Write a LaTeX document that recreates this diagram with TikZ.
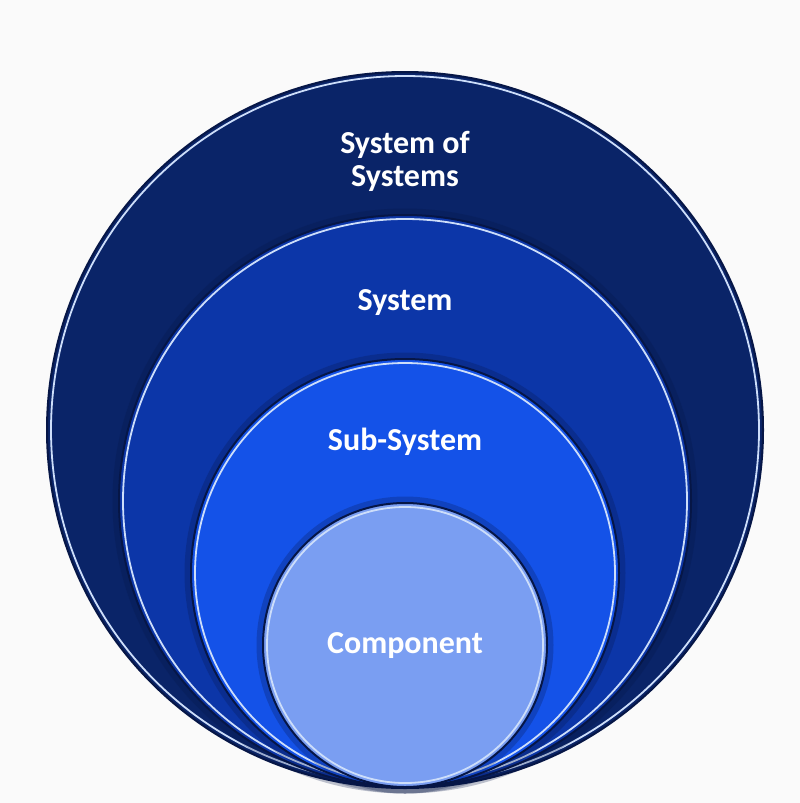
\documentclass[tikz,border=0pt]{standalone}
\usepackage{fontspec}
\setmainfont{Carlito}
\usetikzlibrary{positioning}
\definecolor{paper}{RGB}{250,250,250}
\definecolor{sosblue}{RGB}{10,36,104}
\definecolor{sysblue}{RGB}{12,54,168}
\definecolor{subblue}{RGB}{20,82,232}
\definecolor{compblue}{RGB}{122,158,242}
\definecolor{rimdark}{RGB}{6,22,70}
\definecolor{rimlight}{RGB}{205,222,250}
\tikzset{%
  ring/.style={circle, draw=rimdark, line width=2pt, inner sep=0pt},% filled level circle
  rim/.style={draw=rimlight, line width=1.8pt},% light inner edge
  halo/.style={draw=rimdark, line width=7pt, opacity=0.25},% soft shadow round a circle
  ringtext/.style={text=white, font=\bfseries\fontsize{32}{33}\selectfont, align=center}% level name
}
\begin{document}
\begin{tikzpicture}[x=1pt, y=-1pt]
\useasboundingbox[fill=paper] (0,0) rectangle (800,803);

% the four levels, all touching at the bottom
\node[ring, fill=sosblue, minimum size=716pt] (sos) at (405,430) {};
\draw[rim] (sos.center) circle (354pt);
\draw[halo] (405,501) circle (289pt);
\node[ring, fill=sysblue, minimum size=572pt] (sys) at (405,501) {};
\draw[rim] (sys.center) circle (282pt);
\draw[halo] (405,573) circle (217pt);
\node[ring, fill=subblue, minimum size=428pt] (sub) at (405,573) {};
\draw[rim] (sub.center) circle (210pt);
\draw[halo] (405,645) circle (145pt);
\node[ring, fill=compblue, minimum size=284pt] (comp) at (405,645) {};
\draw[rim] (comp.center) circle (138pt);

% names
\node[ringtext] (sostext) at (405,161) {System of\\Systems};
\node[ringtext, anchor=base] (systext) at (405,310) {System};
\node[ringtext, anchor=base] (subtext) at (405,450) {Sub-System};
\node[ringtext, anchor=base] (comptext) at (405,653) {Component};
\end{tikzpicture}
\end{document}
